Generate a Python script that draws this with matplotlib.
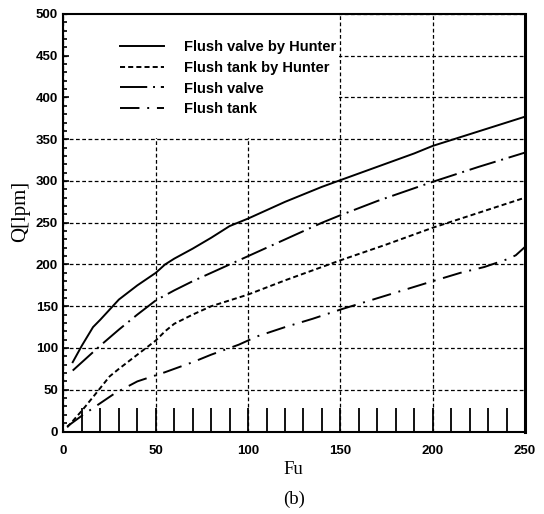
import matplotlib
matplotlib.use("Agg")
import matplotlib.pyplot as plt
from matplotlib.patches import Rectangle
from matplotlib.ticker import MultipleLocator

# values
fv_hunter_x = [5, 10, 16, 20, 30, 40, 50, 55, 60, 70, 80, 90, 100, 110, 120,
               130, 140, 150, 160, 170, 180, 190, 200, 210, 220, 230, 240, 250]
fv_hunter_y = [83, 103, 125, 134, 158, 175, 190, 200, 207, 219, 232, 246, 255, 265, 275,
               284, 293, 301, 309, 317, 325, 333, 342, 349, 356, 363, 370, 377]

ft_hunter_x = [2, 10, 17, 25, 30, 40, 50, 55, 60, 70, 80, 90, 100, 120, 140,
               150, 175, 200, 225, 250]
ft_hunter_y = [5, 25, 44, 66, 75, 92, 109, 120, 129, 140, 150, 157, 164, 181, 197,
               205, 224, 244, 262, 280]

fv_x = [5, 10, 15, 20, 30, 40, 50, 60, 70, 80, 90, 100, 120, 140, 150, 170, 200, 225, 250]
fv_y = [73, 83, 93, 103, 122, 140, 157, 169, 180, 190, 200, 210, 230, 250, 259, 276, 299, 317, 334]

ft_x = [2, 10, 20, 28, 40, 55, 70, 80, 95, 105, 120, 135, 150, 175, 200, 215, 228, 240, 245, 250]
ft_y = [6, 19, 34, 46, 60, 71, 83, 92, 104, 114, 125, 135, 146, 163, 180, 190, 197, 206, 211, 221]

labels = ["Flush valve by Hunter", "Flush tank by Hunter", "Flush valve", "Flush tank"]

sans = ["Liberation Sans", "DejaVu Sans"]
serif = ["Liberation Serif", "DejaVu Serif"]

fig = plt.figure(figsize=(5.44, 5.14), dpi=100)
ax = fig.add_axes([0.1167, 0.1605, 0.8483, 0.8123])
ax.set_axisbelow(True)

lw = 1.4
ax.plot(fv_hunter_x, fv_hunter_y, color="black", lw=lw, linestyle="-", label=labels[0], zorder=2)
ax.plot(ft_hunter_x, ft_hunter_y, color="black", lw=lw, linestyle=(0, (2.6, 1.6)), label=labels[1], zorder=2)
ax.plot(fv_x, fv_y, color="black", lw=lw, linestyle=(0, (14, 3, 1, 3)), label=labels[2], zorder=2)
ax.plot(ft_x, ft_y, color="black", lw=lw, linestyle=(0, (10, 4, 1, 4)), label=labels[3], zorder=2)

ax.set_xlim(0, 250)
ax.set_ylim(0, 500)
ax.xaxis.set_major_locator(MultipleLocator(50))
ax.xaxis.set_minor_locator(MultipleLocator(10))
ax.yaxis.set_major_locator(MultipleLocator(50))
ax.yaxis.set_minor_locator(MultipleLocator(10))

ax.grid(True, which="major", color="black", lw=0.9, linestyle=(0, (3, 2)))

ax.tick_params(axis="x", which="both", direction="in", length=17, width=1.3, pad=10)
ax.tick_params(axis="y", which="major", direction="in", length=4, width=1.2, pad=4)
ax.tick_params(axis="y", which="minor", direction="in", length=3, width=1.2)
for t in ax.get_xticklabels() + ax.get_yticklabels():
    t.set_family(sans)
    t.set_fontweight("bold")
    t.set_fontsize(9.5)

for s in ax.spines.values():
    s.set_linewidth(1.5)
ax.spines["right"].set_linewidth(2.2)

# blank area behind the legend hides the grid there
ax.add_patch(Rectangle((0.012, 0.704), 0.584, 0.294, transform=ax.transAxes,
                       facecolor="white", edgecolor="none", zorder=1))

leg = ax.legend(loc="upper left", bbox_to_anchor=(0.095, 0.968), frameon=False,
                handlelength=3.0, handletextpad=1.35, labelspacing=0.45,
                prop={"family": sans, "weight": "bold", "size": 10.5})

ax.set_xlabel("Fu", family=serif, fontsize=13.5, va="center")
ax.xaxis.set_label_coords(0.498, -0.09)
ax.set_ylabel("Q[lpm]", family=serif, fontsize=15, va="center")
ax.yaxis.set_label_coords(-0.092, 0.528)
fig.text(0.54, 0.029, "(b)", family=serif, fontsize=13.5, ha="center", va="center")

fig.savefig("out.png", dpi=100)
